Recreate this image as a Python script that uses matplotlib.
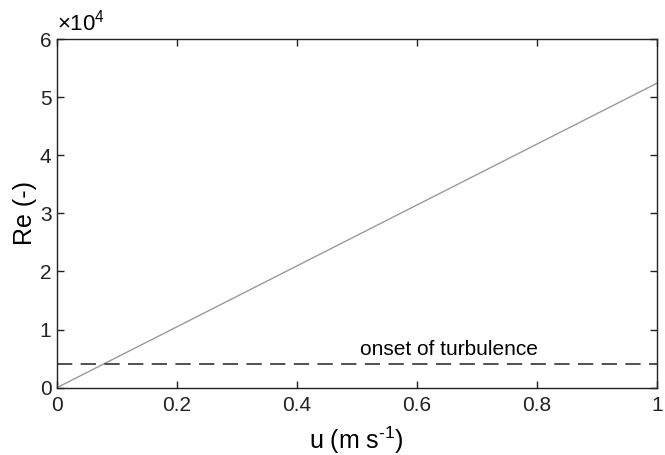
import matplotlib
matplotlib.use('Agg')
import matplotlib.pyplot as plt
from matplotlib.ticker import FuncFormatter

# MATLAB-like look
plt.rcParams['font.family'] = ['Liberation Sans', 'DejaVu Sans']
plt.rcParams['mathtext.fontset'] = 'custom'
plt.rcParams['mathtext.rm'] = 'Liberation Sans'
plt.rcParams['mathtext.it'] = 'Liberation Sans:italic'

# data
u = [0.0, 1.0]
re = [0.0, 52400.0]
re_turb = 4000.0
x_ticks = [0, 0.2, 0.4, 0.6, 0.8, 1]
y_ticks = [0, 10000, 20000, 30000, 40000, 50000, 60000]

fig = plt.figure(figsize=(6.65, 4.55), dpi=100)
ax = fig.add_axes([0.0857, 0.148, 0.902, 0.766])

ax.plot(u, re, color='#9a9a9a', linewidth=1.0)
ax.plot([0, 1], [re_turb, re_turb], color='#222222', linewidth=1.1, dashes=(10, 5.5))
ax.text(0.505, 5600, 'onset of turbulence', fontsize=15, va='baseline', ha='left')

ax.set_xlim(0, 1)
ax.set_ylim(0, 60000)
ax.set_xticks(x_ticks)
ax.set_yticks(y_ticks)
ax.xaxis.set_major_formatter(FuncFormatter(lambda v, p: f'{v:g}'))
ax.yaxis.set_major_formatter(FuncFormatter(lambda v, p: f'{v / 1e4:g}'))
ax.tick_params(direction='in', length=5, width=1, labelsize=15,
               top=True, right=True, colors='#222222')
ax.tick_params(axis='x', pad=6)
ax.tick_params(axis='y', pad=4)
for s in ax.spines.values():
    s.set_linewidth(1.0)
    s.set_color('#222222')

ax.text(0.0, 1.01, r'$\times\mathrm{10^4}$', transform=ax.transAxes,
        fontsize=16, ha='left', va='bottom')

ax.set_xlabel(r'u (m s$^{\text{-1}}$)', fontsize=18, labelpad=7)
ax.set_ylabel('Re (-)', fontsize=18, labelpad=2)

fig.savefig('out.png', dpi=100)
